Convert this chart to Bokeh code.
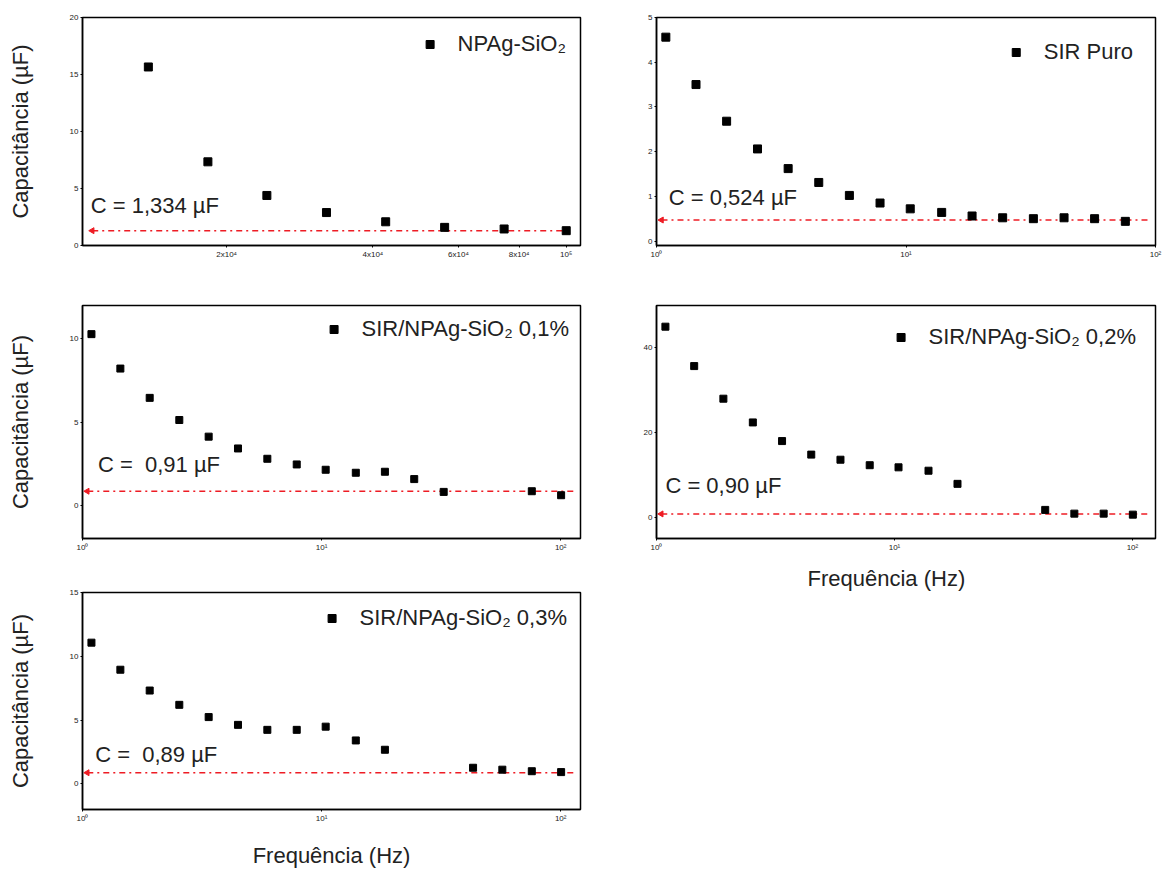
import math
from bokeh.plotting import figure
from bokeh.layouts import row, column
from bokeh.models import FixedTicker, Range1d, Label, Legend, LegendItem, Title
from bokeh.embed import file_html
from bokeh.resources import INLINE

FONT = "Liberation Sans"

# ---------------- data ----------------
# Panel 1: NPAg-SiO2
freq_np = [1.38e4, 1.83e4, 2.42e4, 3.21e4, 4.25e4, 5.62e4, 7.45e4, 1.0e5]
cap_np = [15.66, 7.34, 4.39, 2.89, 2.08, 1.59, 1.45, 1.30]

# Panel 2: SIR Puro
freq_puro = [1.09, 1.44, 1.91, 2.54, 3.37, 4.47, 5.93, 7.87, 10.4, 13.9, 18.4, 24.4, 32.4, 43.0, 57.0, 75.7]
cap_puro = [4.56, 3.50, 2.68, 2.06, 1.62, 1.31, 1.02, 0.85, 0.72, 0.64, 0.56, 0.52, 0.50, 0.52, 0.50, 0.44]

# Panel 3: SIR/NPAg-SiO2 0,1%
freq_01 = [1.09, 1.44, 1.91, 2.54, 3.37, 4.47, 5.93, 7.87, 10.4, 13.9, 18.4, 24.4, 32.4, 75.7, 100.4]
cap_01 = [10.28, 8.21, 6.45, 5.12, 4.12, 3.41, 2.79, 2.45, 2.13, 1.95, 2.01, 1.57, 0.80, 0.84, 0.60]

# Panel 4: SIR/NPAg-SiO2 0,2%
freq_02 = [1.09, 1.44, 1.91, 2.54, 3.37, 4.47, 5.93, 7.87, 10.4, 13.9, 18.4, 43.0, 57.0, 75.7, 100.4]
cap_02 = [45.0, 35.7, 28.0, 22.4, 18.0, 14.8, 13.6, 12.3, 11.8, 11.0, 7.9, 1.75, 0.87, 0.87, 0.63]

# Panel 5: SIR/NPAg-SiO2 0,3%
freq_03 = [1.09, 1.44, 1.91, 2.54, 3.37, 4.47, 5.93, 7.87, 10.4, 13.9, 18.4, 43.0, 57.0, 75.7, 100.4]
cap_03 = [11.07, 8.95, 7.32, 6.20, 5.24, 4.63, 4.24, 4.24, 4.49, 3.41, 2.68, 1.27, 1.12, 1.00, 0.93]

series_names = ["NPAg-SiO\u2082", "SIR Puro", "SIR/NPAg-SiO\u2082 0,1%",
                "SIR/NPAg-SiO\u2082 0,2%", "SIR/NPAg-SiO\u2082 0,3%"]
c_levels = [1.30, 0.47, 0.84, 0.80, 0.88]
c_texts = ["C = 1,334 \u00b5F", "C = 0,524 \u00b5F", "C =\u00a0 0,91 \u00b5F",
           "C = 0,90 \u00b5F", "C =\u00a0 0,89 \u00b5F"]

# tick labels
np_xticks = [2e4, 4e4, 6e4, 8e4, 1e5]
np_xlabels = ["2x10\u2074", "4x10\u2074", "6x10\u2074", "8x10\u2074", "10\u2075"]
sir_xticks = [1, 10, 100]
sir_xlabels = ["10\u2070", "10\u00b9", "10\u00b2"]
yticks_np = [0, 5, 10, 15, 20]
yticks_puro = [0, 1, 2, 3, 4, 5]
yticks_01 = [0, 5, 10]
yticks_02 = [0, 20, 40]
yticks_03 = [0, 5, 10, 15]

y_label = "Capacit\u00e2ncia (\u00b5F)"
x_label = "Frequ\u00eancia (Hz)"


def panel(freq, cap, name, c_level, c_text, xr, yr, xticks, xlabels, yticks,
          width, height, bl, br, bt, bb, msize, text_pos, leg_margin,
          ylab=False, xlab=False):
    p = figure(width=width, height=height, x_axis_type="log",
               x_range=Range1d(*xr), y_range=Range1d(*yr),
               output_backend="svg", toolbar_location=None, title=None,
               min_border_left=bl, min_border_right=br,
               min_border_top=bt, min_border_bottom=bb)
    p.xgrid.visible = False
    p.ygrid.visible = False
    p.outline_line_color = "black"
    p.outline_line_width = 1.5
    p.background_fill_color = "white"
    p.border_fill_color = "white"

    for ax in (p.xaxis[0], p.yaxis[0]):
        ax.axis_line_width = 1.5
        ax.major_tick_out = 2
        ax.major_tick_in = 0
        ax.minor_tick_out = 0
        ax.minor_tick_in = 0
        ax.major_label_text_font = FONT
        ax.major_label_text_font_size = "8px"
        ax.major_label_text_color = "#222222"
        ax.major_label_standoff = 2
        ax.axis_label_text_font = FONT
        ax.axis_label_text_font_size = "22px"
        ax.axis_label_text_font_style = "normal"
        ax.axis_label_text_color = "#222222"

    p.xaxis[0].ticker = FixedTicker(ticks=xticks, minor_ticks=[])
    p.xaxis[0].major_label_overrides = {t: l for t, l in zip(xticks, xlabels)}
    p.yaxis[0].ticker = FixedTicker(ticks=yticks, minor_ticks=[])

    if ylab:
        p.yaxis[0].axis_label = y_label
        p.yaxis[0].axis_label_standoff = 34
    if xlab:
        p.xaxis[0].axis_label = x_label
        p.xaxis[0].axis_label_standoff = 17

    # reference line C (red dash-dot with left arrow head)
    x0 = xr[0] * 10 ** 0.02
    x1 = xr[1] * 10 ** -0.02
    p.line([x0, x1], [c_level, c_level], line_color="#ee1c24",
           line_width=1.6, line_dash="6 4 2 4")
    p.scatter([x0], [c_level], marker="triangle", angle=math.pi / 2,
              size=6, color="#ee1c24")

    r = p.scatter(freq, cap, marker="square", size=msize, color="black")

    p.add_layout(Label(x=text_pos[0], y=text_pos[1], text=c_text,
                       text_font=FONT, text_font_size="22px",
                       text_color="#222222", text_baseline="middle"))

    leg = Legend(items=[LegendItem(label=name, renderers=[r])],
                 location="top_right", margin=leg_margin, padding=0,
                 border_line_alpha=0, background_fill_alpha=0,
                 glyph_width=20, glyph_height=20, label_standoff=18,
                 label_text_font=FONT, label_text_font_size="22px",
                 label_text_color="#222222")
    p.add_layout(leg)
    return p


p1 = panel(freq_np, cap_np, series_names[0], c_levels[0], c_texts[0],
           (1.01e4, 1.07e5), (0, 20), np_xticks, np_xlabels, yticks_np,
           608, 273, 82, 28, 17, 28, 8, (1.05e4, 3.5), 14, ylab=True)
p2 = panel(freq_puro, cap_puro, series_names[1], c_levels[1], c_texts[1],
           (1, 100), (-0.1, 5), sir_xticks, sir_xlabels, yticks_puro,
           555, 273, 48, 8, 17, 28, 8, (1.12, 0.97), 22)
p3 = panel(freq_01, cap_01, series_names[2], c_levels[2], c_texts[2],
           (1, 121), (-2, 12), sir_xticks, sir_xlabels, yticks_01,
           608, 309, 82, 28, 32, 44, 7, (1.16, 2.45), 11, ylab=True)
p4 = panel(freq_02, cap_02, series_names[3], c_levels[3], c_texts[3],
           (1, 125), (-5, 50), sir_xticks, sir_xlabels, yticks_02,
           555, 330, 48, 8, 32, 65, 7, (1.09, 7.4), 19)
p4.add_layout(Title(text=x_label, align="left", offset=151,
                    text_font=FONT, text_font_size="22px",
                    text_font_style="normal", text_color="#222222",
                    standoff=18), "below")
p5 = panel(freq_03, cap_03, series_names[4], c_levels[4], c_texts[4],
           (1, 121), (-2, 15), sir_xticks, sir_xlabels, yticks_03,
           608, 288, 82, 28, 10, 50, 7, (1.13, 2.33), 13, ylab=True, xlab=True)

layout = row(column(p1, p3, p5), column(p2, p4))

open("out.html", "w").write(file_html(layout, INLINE))
